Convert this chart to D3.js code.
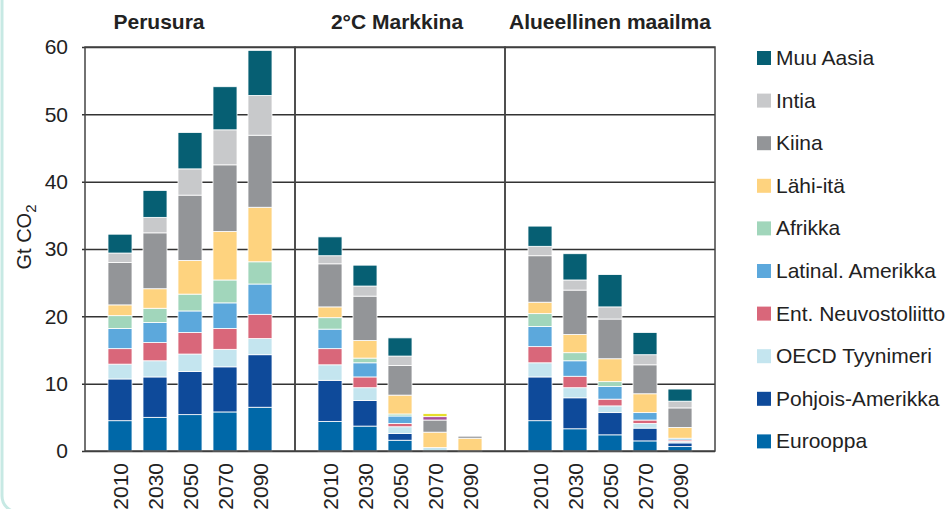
<!DOCTYPE html>
<html>
<head>
<meta charset="utf-8">
<script src="https://cdn.jsdelivr.net/npm/d3@7"></script>
<style>
	body { margin: 0; background: #fff; }
	svg { display: block; font-family: "Liberation Sans", Arial, sans-serif; }
</style>
</head>
<body>
<script>
const years = ['2010', '2030', '2050', '2070', '2090'];
const scenarios = ['Perusura', '2°C Markkina', 'Alueellinen maailma'];
const regions = ['Eurooppa', 'Pohjois-Amerikka', 'OECD Tyynimeri', 'Ent. Neuvostoliitto',
	'Latinal. Amerikka', 'Afrikka', 'Lähi-itä', 'Kiina', 'Intia', 'Muu Aasia'];
// two unlabelled thin segments on top of the 2°C 2070 bar
const extraKeys = ['lisä-violetti', 'lisä-keltainen'];
const yTicks = [0, 10, 20, 30, 40, 50, 60];

// rows follow regions + extraKeys, columns follow years (Gt CO2)
const perusura = [
	[4.5, 5.0, 5.4, 5.8, 6.5],
	[6.2, 6.0, 6.4, 6.7, 7.8],
	[2.2, 2.4, 2.6, 2.6, 2.4],
	[2.3, 2.7, 3.2, 3.1, 3.6],
	[3.0, 3.0, 3.2, 3.8, 4.5],
	[1.9, 2.1, 2.5, 3.4, 3.3],
	[1.6, 2.9, 5.0, 7.2, 8.1],
	[6.3, 8.3, 9.7, 9.9, 10.7],
	[1.4, 2.3, 3.9, 5.2, 5.9],
	[2.8, 4.0, 5.4, 6.4, 6.7],
	[0, 0, 0, 0, 0],
	[0, 0, 0, 0, 0]
];
const markkina = [
	[4.4, 3.7, 1.6, 0, 0],
	[6.1, 3.8, 1.0, 0, 0],
	[2.3, 1.9, 1.0, 0.5, 0],
	[2.4, 1.6, 0.5, 0, 0],
	[2.9, 2.1, 1.1, 0, 0],
	[1.7, 0.7, 0.3, 0, 0],
	[1.6, 2.6, 2.8, 2.3, 1.9],
	[6.4, 6.6, 4.4, 1.8, 0.3],
	[1.2, 1.5, 1.4, 0, 0],
	[2.8, 3.1, 2.7, 0, 0],
	[0, 0, 0, 0.5, 0],
	[0, 0, 0, 0.45, 0]
];
const alueellinen = [
	[4.5, 3.3, 2.4, 1.5, 0.65],
	[6.5, 4.6, 3.3, 1.9, 0.55],
	[2.1, 1.5, 1.0, 0.7, 0.25],
	[2.4, 1.7, 1.0, 0.5, 0.2],
	[3.0, 2.3, 1.9, 1.1, 0.25],
	[1.9, 1.2, 0.7, 0, 0],
	[1.7, 2.7, 3.4, 2.8, 1.6],
	[6.9, 6.6, 5.9, 4.3, 2.9],
	[1.4, 1.5, 1.8, 1.5, 1.0],
	[3.0, 3.9, 4.8, 3.3, 1.8],
	[0, 0, 0, 0, 0],
	[0, 0, 0, 0, 0]
];
const scenarioValues = [perusura, markkina, alueellinen];

const colors = ['#0068a8', '#0e4a9a', '#c4e5ef', '#d9677a', '#5ca8dc', '#a1d6bb',
	'#fed37f', '#939598', '#c8c9cb', '#065f73', '#a6509c', '#e6df2a'];

const width = 952, height = 509;
const margin = { top: 47, left: 85, right: 237, bottom: 58 };
const allKeys = regions.concat(extraKeys);

const svg = d3.select('body').append('svg')
	.attr('width', width)
	.attr('height', height);

// light frame of the surrounding box
svg.append('rect')
	.attr('x', 2).attr('y', -30)
	.attr('width', 1000).attr('height', 542)
	.attr('rx', 16)
	.attr('fill', 'none')
	.attr('stroke', '#c7e9e4')
	.attr('stroke-width', 3);

const yScale = d3.scaleLinear()
	.domain([0, 60])
	.range([height - margin.bottom, margin.top]);

const panelScale = d3.scaleBand()
	.domain(scenarios)
	.range([margin.left, width - margin.right]);

const xScale = d3.scaleBand()
	.domain(years)
	.range([0, panelScale.bandwidth()])
	.paddingInner(0.314)
	.paddingOuter(0.657);

const colorScale = d3.scaleOrdinal().domain(allKeys).range(colors);

// gridlines + y axis, anchored at the right edge so lines run left past the frame
const plotWidth = width - margin.right - margin.left;
const yAxis = d3.axisLeft(yScale)
	.tickValues(yTicks)
	.tickSize(plotWidth + 3)
	.tickSizeOuter(0)
	.tickPadding(14);

const yAxisG = svg.append('g')
	.attr('transform', `translate(${width - margin.right}, 0)`)
	.call(yAxis);
yAxisG.select('.domain').remove();
yAxisG.selectAll('.tick line')
	.attr('stroke', '#333')
	.attr('stroke-width', 1.5);
yAxisG.selectAll('.tick text')
	.style('font-size', '21px')
	.style('font-family', '"Liberation Sans", Arial, sans-serif')
	.attr('fill', '#222');

svg.append('text')
	.attr('transform', `translate(31, 237) rotate(-90)`)
	.style('text-anchor', 'middle')
	.style('font-size', '20px')
	.attr('fill', '#222')
	.text('Gt CO')
	.append('tspan')
	.attr('dy', 5)
	.style('font-size', '15px')
	.text('2');

const titleShift = [-31, -3, 0];

scenarios.forEach((scenario, si) => {
	const values = scenarioValues[si];
	const table = years.map((year, yi) => {
		const row = { year: year };
		allKeys.forEach((k, ki) => { row[k] = values[ki][yi]; });
		return row;
	});
	const stacked = d3.stack().keys(allKeys)(table);

	const panel = svg.append('g')
		.attr('transform', `translate(${panelScale(scenario)}, 0)`);

	panel.selectAll('.layer')
		.data(stacked)
		.enter().append('g')
		.attr('class', 'layer')
		.attr('fill', d => colorScale(d.key))
		.selectAll('rect')
		.data(d => d.filter(p => p[1] - p[0] > 0))
		.enter().append('rect')
		.attr('x', d => xScale(d.data.year))
		.attr('y', d => yScale(d[1]))
		.attr('width', xScale.bandwidth())
		.attr('height', d => yScale(d[0]) - yScale(d[1]))
		.attr('stroke', '#fff')
		.attr('stroke-width', 0.8);

	panel.selectAll('.year-label')
		.data(years)
		.enter().append('text')
		.attr('class', 'year-label')
		.attr('transform', d => `translate(${xScale(d) + xScale.bandwidth() / 2}, ${height - margin.bottom + 12}) rotate(-90)`)
		.attr('dy', '0.36em')
		.style('text-anchor', 'end')
		.style('font-size', '21px')
		.attr('fill', '#222')
		.text(d => d);

	panel.append('text')
		.attr('x', panelScale.bandwidth() / 2 + titleShift[si])
		.attr('y', 29)
		.style('text-anchor', 'middle')
		.style('font-size', '21px')
		.style('font-weight', 'bold')
		.attr('fill', '#222')
		.text(scenario);

	// panel frame
	panel.append('rect')
		.attr('x', 0)
		.attr('y', margin.top)
		.attr('width', panelScale.bandwidth())
		.attr('height', height - margin.bottom - margin.top)
		.attr('fill', 'none')
		.attr('stroke', '#444')
		.attr('stroke-width', 1.5);
});

// legend, top entry first
const legendKeys = regions.slice().reverse();
const legend = svg.append('g')
	.attr('transform', `translate(757, 51)`);

const entries = legend.selectAll('.legend-entry')
	.data(legendKeys)
	.enter().append('g')
	.attr('class', 'legend-entry')
	.attr('transform', (d, i) => `translate(0, ${i * 42.6})`);

entries.append('rect')
	.attr('width', 14)
	.attr('height', 14)
	.attr('fill', d => colorScale(d));

entries.append('text')
	.attr('x', 19)
	.attr('y', 14)
	.style('font-size', '21px')
	.attr('fill', '#222')
	.text(d => d);
</script>
</body>
</html>
